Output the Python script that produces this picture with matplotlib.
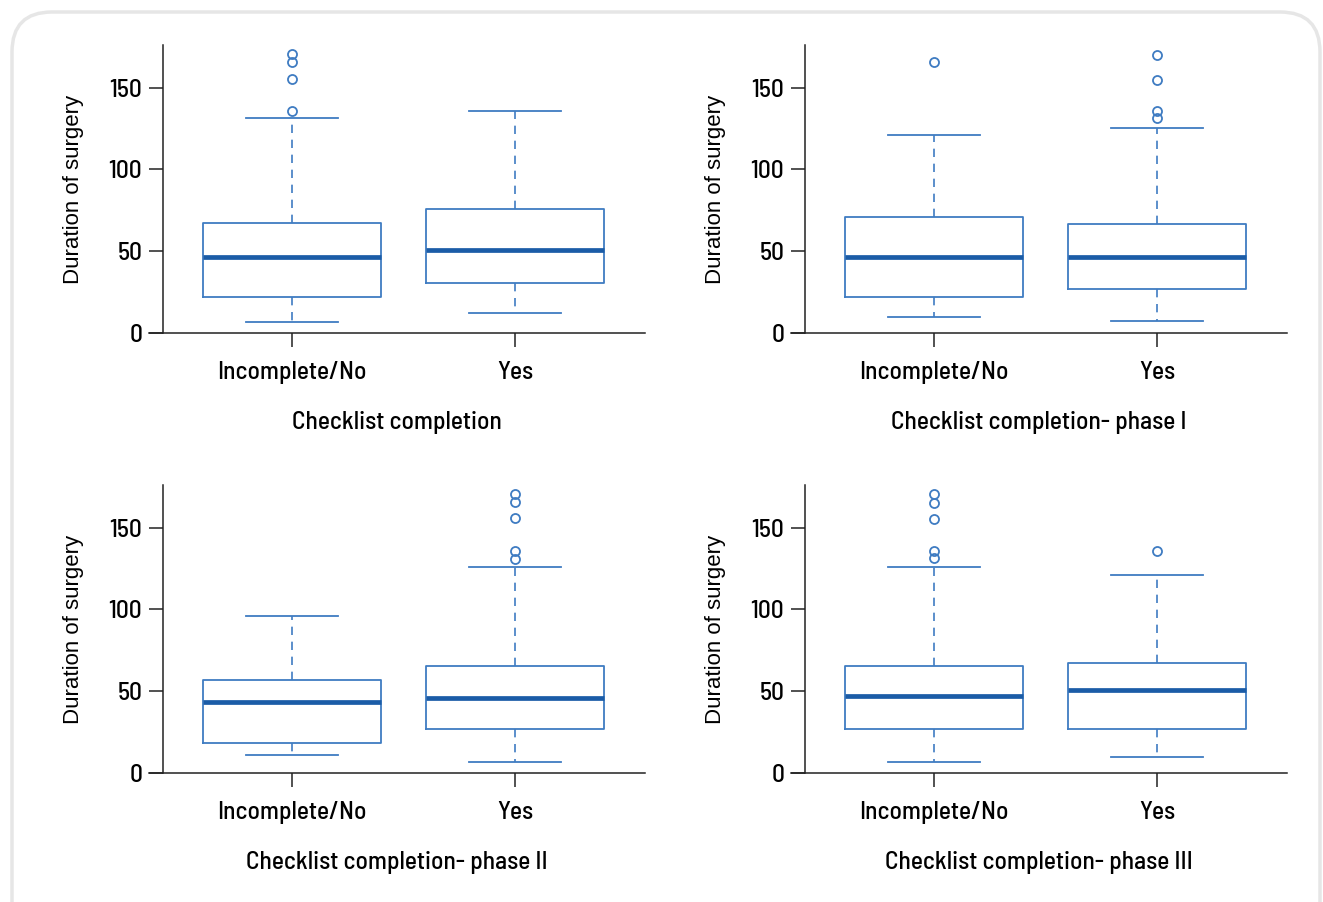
import numpy as np
import matplotlib.pyplot as plt
from matplotlib.patches import FancyBboxPatch

# 手术时长箱线图（四组）
groups = ["Incomplete/No", "Yes"]
xlabels = ["Checklist completion", "Checklist completion- phase I",
           "Checklist completion- phase II", "Checklist completion- phase III"]

med = [[46.7, 50.9], [46.7, 46.3], [43.4, 46.1], [46.9, 50.7]]
q1 = [[22.0, 30.6], [22.0, 27.1], [18.3, 26.9], [26.7, 26.7]]
q3 = [[67.2, 75.8], [70.9, 66.4], [57.1, 65.6], [65.6, 67.3]]
lo = [[6.7, 12.2], [10.0, 7.1], [11.0, 6.5], [6.5, 9.6]]
hi = [[131.5, 135.7], [120.8, 125.1], [95.8, 125.7], [125.7, 120.8]]
fliers = [
    [[135.5, 155.3, 165.5, 170.3], []],
    [[165.4], [131.4, 135.9, 154.9, 170.1]],
    [[], [130.8, 135.9, 156.1, 165.7, 170.8]],
    [[131.2, 135.7, 155.5, 165.3, 170.2], [135.7]],
]

cond = ['Barlow Semi Condensed', 'IBM Plex Sans Condensed', 'DejaVu Sans']
box_c = '#3f7cc2'
med_c = '#1b5ca7'

W, H = 1323, 902
fig = plt.figure(figsize=(W / 100, H / 100), dpi=100)

# 圆角外框
frame = FancyBboxPatch((12, -60), 1308, H - 12 + 60,
                       boxstyle="round,pad=0,rounding_size=40",
                       transform=None, fc='none', ec='#e6e6e6', lw=2.5, zorder=-1)
fig.patches.append(frame)

lefts = [149, 791]
tops = [45, 485]
aw, ah = 496, 288

for k in range(4):
    r, c = divmod(k, 2)
    ax = fig.add_axes([lefts[c] / W, 1 - (tops[r] + ah) / H, aw / W, ah / H])
    ax.patch.set_alpha(0)
    stats = []
    for j in range(2):
        stats.append(dict(med=med[k][j], q1=q1[k][j], q3=q3[k][j],
                          whislo=lo[k][j], whishi=hi[k][j],
                          fliers=fliers[k][j], label=groups[j]))
    ax.bxp(stats, positions=[0, 1], widths=0.8, capwidths=0.41,
           boxprops=dict(color=box_c, lw=1.3),
           medianprops=dict(color=med_c, lw=3.4, solid_capstyle='butt'),
           whiskerprops=dict(color=box_c, lw=1.2, linestyle=(0, (5, 4))),
           capprops=dict(color=box_c, lw=1.3),
           flierprops=dict(marker='o', mfc='none', mec=box_c, ms=6.5, mew=1.3))
    ax.set_xlim(-0.641, 1.583)
    ax.set_ylim(0, 176)
    ax.set_yticks([0, 50, 100, 150])
    for s in ['top', 'right']:
        ax.spines[s].set_visible(False)
    ax.spines['left'].set_position(('axes', 14 / aw))
    ax.spines['left'].set_color('#222222')
    ax.spines['bottom'].set_color('#222222')
    ax.spines['left'].set_linewidth(1.1)
    ax.spines['bottom'].set_linewidth(1.1)
    ax.tick_params(axis='both', length=10, width=1.1, color='#222222')
    ax.tick_params(axis='y', pad=5)
    ax.tick_params(axis='x', pad=10.5)
    for t in ax.get_xticklabels() + ax.get_yticklabels():
        t.set_family(cond)
        t.set_fontsize(18.3)
        t.set_fontweight(500)
    ax.set_xlabel(xlabels[k], family=cond, fontsize=18.3, fontweight=500, labelpad=19)
    ax.set_ylabel("Duration of surgery", family=['Liberation Sans', 'DejaVu Sans'],
                  fontsize=16, labelpad=18)

plt.savefig('out.png', dpi=100)
